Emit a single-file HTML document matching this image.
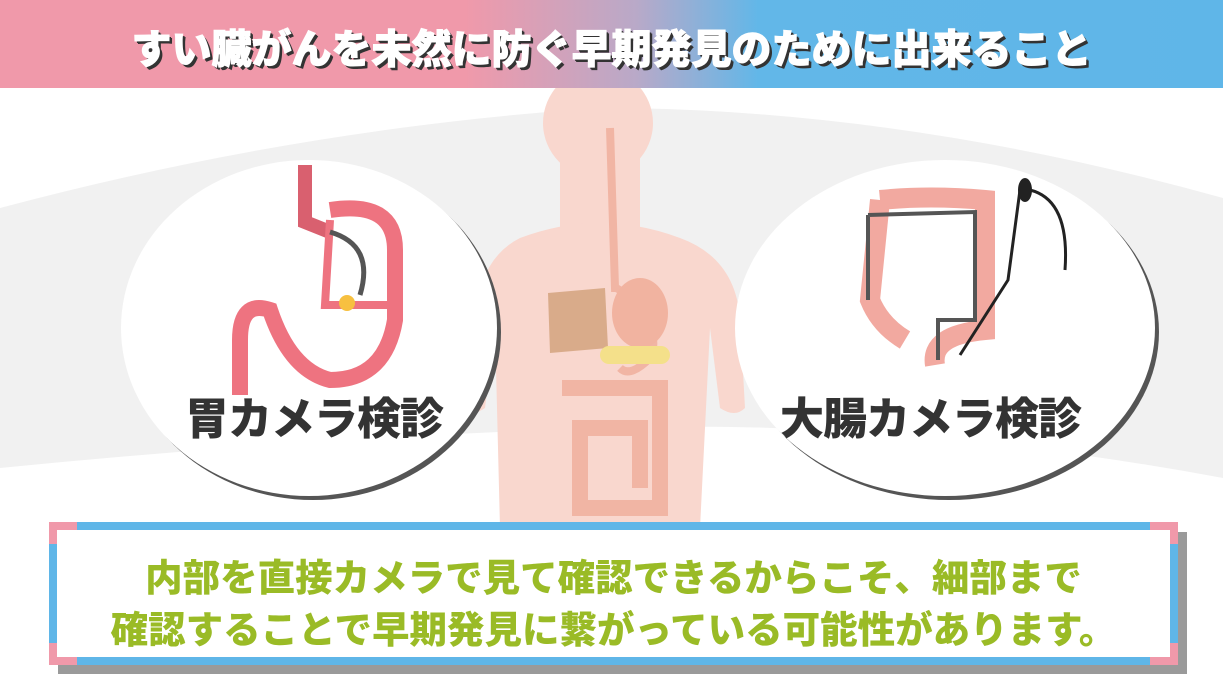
<!DOCTYPE html>
<html><head><meta charset="utf-8"><style>
*{margin:0;padding:0;box-sizing:border-box}
body{width:1223px;height:680px;overflow:hidden;background:#fff;position:relative;font-family:"Liberation Sans","Noto Sans CJK JP",sans-serif}
.hdr{position:absolute;left:0;top:0;width:1223px;height:88px;background:linear-gradient(90deg,#f099aa 0%,#f099aa 38%,#b9a9c8 52%,#62b7e8 62%,#5fb6e8 100%)}
.title{position:absolute;left:0;top:17px;width:1223px;text-align:center;font-size:40px;font-weight:900;color:#fff;text-shadow:3px 3px 0 #333,2px 2px 0 #333;-webkit-text-stroke:1px #fff}
.lbl{position:absolute;font-size:44px;font-weight:900;color:#333;letter-spacing:-1px;white-space:nowrap}
.box{position:absolute;left:49px;top:522px;width:1129px;height:143px;border:8px solid #5fb6e8;background:#fff}
.sh{position:absolute;left:58px;top:532px;width:1129px;height:142px;background:#9a9a9a}
.pk{position:absolute;background:#f099aa}
.txt{position:absolute;left:49px;width:1129px;text-align:center;font-size:37.5px;font-weight:900;color:#9abb26;white-space:nowrap}
</style></head><body>
<div class="hdr"></div>
<div class="title">すい臓がんを未然に防ぐ早期発見のために出来ること</div>
<svg style="position:absolute;left:0;top:88px" width="1223" height="440">
<path d="M0 120 Q300 40 600 20 Q900 20 1223 110 L1223 390 Q900 330 600 340 Q300 350 0 380Z" fill="#f1f1f1"/>
<g fill="#f9d7ce">
<ellipse cx="598" cy="35" rx="55" ry="55"/>
<rect x="560" y="60" width="80" height="110"/>
<path d="M520 150 Q600 120 680 150 Q735 170 740 230 L745 320 Q735 330 720 320 L710 240 L700 440 L500 440 L495 240 L485 320 Q470 330 465 320 L475 230 Q480 170 520 150Z"/>
</g>
<path d="M610 40 L615 200 Q620 200 640 220 Q660 250 650 270 Q630 290 620 280" fill="none" stroke="#f1b5a4" stroke-width="8"/>
<path d="M548 205 L605 200 L608 260 L550 265Z" fill="#d9ab8a"/>
<ellipse cx="640" cy="225" rx="28" ry="35" fill="#f1b3a0"/>
<rect x="600" y="258" width="70" height="18" rx="9" fill="#f4e08a"/>
<path d="M562 300 L660 300 L660 420 L580 420 L580 340 L640 340 L640 400" fill="none" stroke="#f1b5a4" stroke-width="16"/>
</svg>
<svg style="position:absolute;left:0;top:0" width="1223" height="520">
<ellipse cx="313" cy="332" rx="188" ry="168" fill="#555"/>
<ellipse cx="309" cy="328" rx="188" ry="168" fill="#fff"/>
<ellipse cx="949" cy="332" rx="210" ry="168" fill="#555"/>
<ellipse cx="945" cy="328" rx="210" ry="168" fill="#fff"/>
<path d="M305 165 L305 222 L330 232" fill="none" stroke="#d9606f" stroke-width="14"/>
<path d="M330 210 Q395 200 395 250 L395 320 Q385 380 330 380 Q290 370 270 310 Q240 300 240 340 L240 395" fill="none" stroke="#ee7380" stroke-width="16"/>
<path d="M330 220 L325 305 L390 305" fill="none" stroke="#ee7380" stroke-width="8"/>
<path d="M330 232 Q375 245 360 295" fill="none" stroke="#555" stroke-width="5"/>
<circle cx="347" cy="303" r="8" fill="#f7c040"/>
<path d="M880 200 Q930 195 985 200 L985 330 Q930 335 935 365 M880 200 L870 300 Q880 325 905 340" fill="none" stroke="#f2a9a0" stroke-width="20"/>
<path d="M868 215 L868 300 M868 215 L975 212 L975 320 L938 320 L938 360" fill="none" stroke="#555" stroke-width="4"/>
<path d="M1020 190 L1008 280 L960 355 M1030 190 Q1070 200 1065 270" fill="none" stroke="#222" stroke-width="3"/>
<ellipse cx="1025" cy="190" rx="7" ry="12" fill="#222"/>
</svg>
<div class="lbl" style="left:185px;top:383px">胃カメラ検診</div>
<div class="lbl" style="left:780px;top:383px">大腸カメラ検診</div>
<div class="sh"></div>
<div class="box"></div>
<div class="pk" style="left:49px;top:522px;width:28px;height:8px"></div>
<div class="pk" style="left:49px;top:522px;width:8px;height:22px"></div>
<div class="pk" style="left:49px;top:657px;width:28px;height:8px"></div>
<div class="pk" style="left:49px;top:643px;width:8px;height:22px"></div>
<div class="pk" style="left:1150px;top:522px;width:28px;height:8px"></div>
<div class="pk" style="left:1170px;top:522px;width:8px;height:22px"></div>
<div class="pk" style="left:1150px;top:657px;width:28px;height:8px"></div>
<div class="pk" style="left:1170px;top:643px;width:8px;height:22px"></div>
<div class="txt" style="top:547px">内部を直接カメラで見て確認できるからこそ、細部まで</div>
<div class="txt" style="top:599px">確認することで早期発見に繋がっている可能性があります。</div>
</body></html>
